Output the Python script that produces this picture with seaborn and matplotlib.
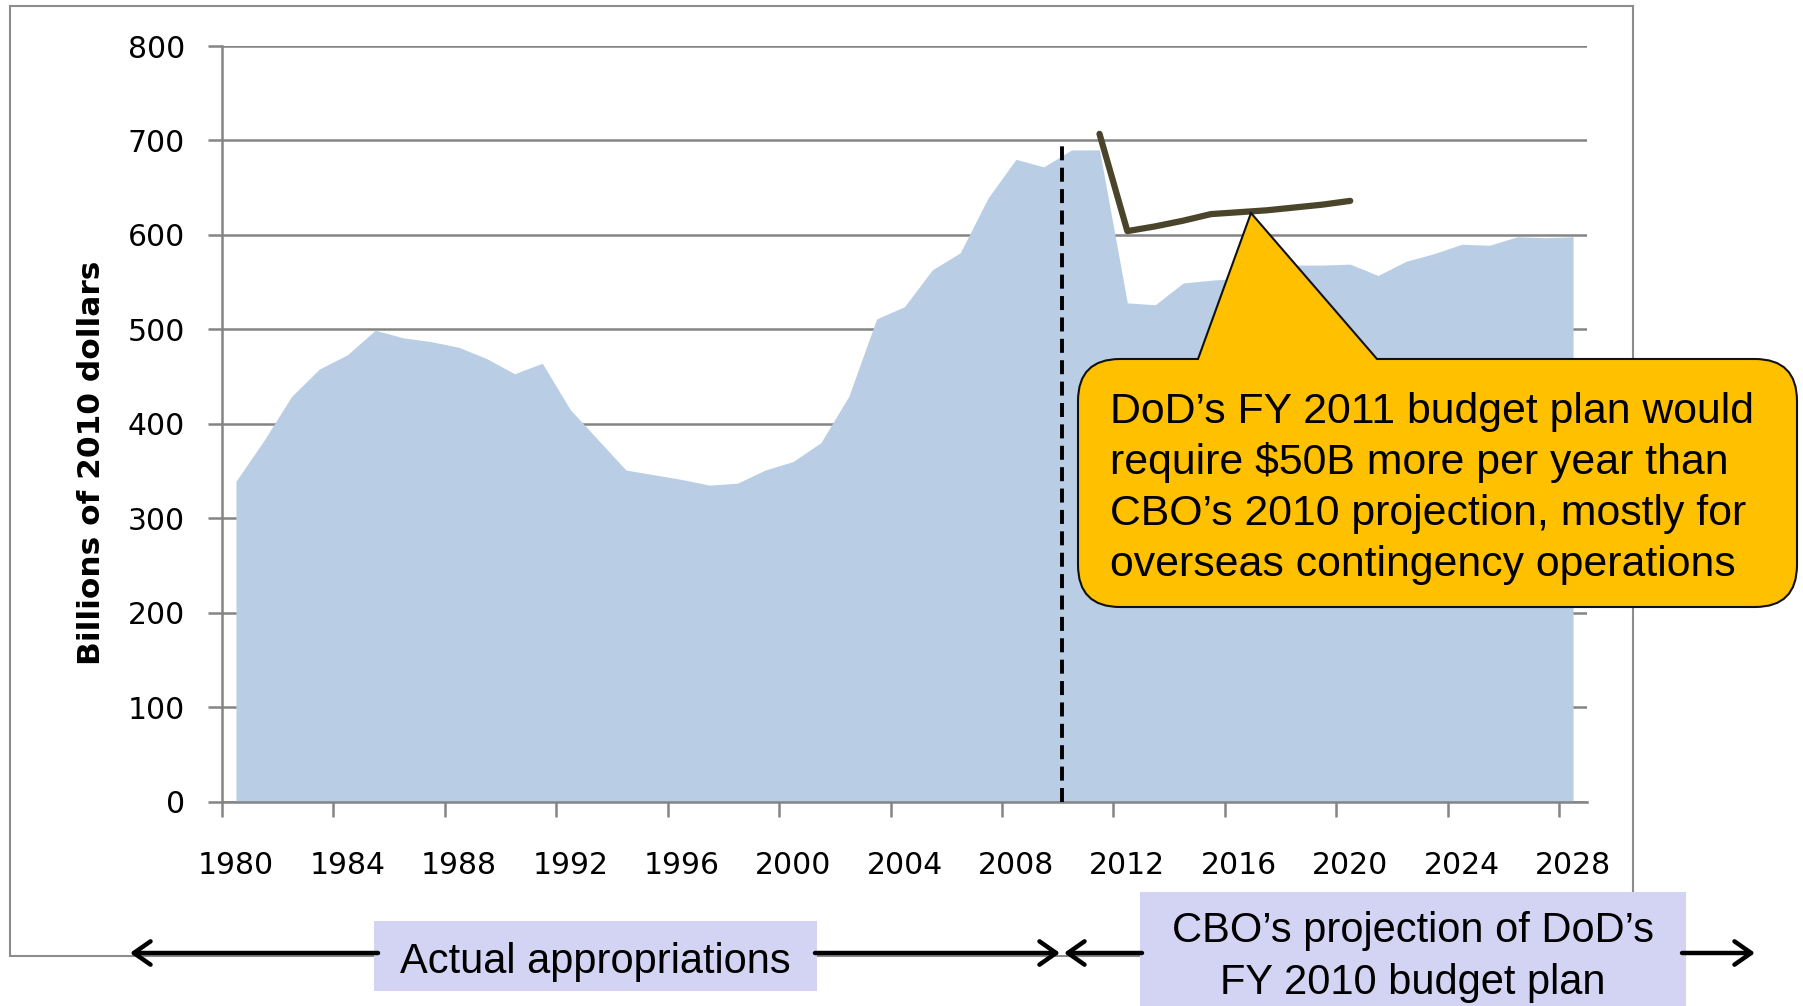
import pandas as pd
import seaborn as sns
import matplotlib.pyplot as plt
from matplotlib import font_manager
from matplotlib.patches import Rectangle, PathPatch
from matplotlib.path import Path

# DoD budget, billions of 2010 dollars (actual through 2009, CBO projection after)
years = list(range(1980, 2029))
budget = [339, 382, 429, 458, 473, 499, 491, 487, 481, 469,
          453, 464, 415, 383, 351, 346, 341, 335, 337, 351,
          360, 380, 429, 511, 524, 563, 581, 639, 680, 672,
          690, 690, 528, 526, 549, 552, 554, 558, 568, 568,
          569, 557, 572, 580, 590, 589, 598, 597, 598]

# DoD's FY 2011 budget plan
plan_years = list(range(2011, 2021))
plan_values = [707, 604, 609, 615, 622, 624, 626, 629, 632, 636]

y_ticks = [0, 100, 200, 300, 400, 500, 600, 700, 800]
x_labels = list(range(1980, 2029, 4))

callout_lines = ["DoD\u2019s FY 2011 budget plan would",
                 "require $50B more per year than",
                 "CBO\u2019s 2010 projection, mostly for",
                 "overseas contingency operations"]
left_label = "Actual appropriations"
right_label = ["CBO\u2019s projection of DoD\u2019s", "FY 2010 budget plan"]

sns.set_style("white")
plt.rcParams["font.family"] = ["DejaVu Sans"]
plt.rcParams["text.color"] = "black"
plt.rcParams["axes.labelcolor"] = "black"
plt.rcParams["xtick.labelcolor"] = "black"
plt.rcParams["ytick.labelcolor"] = "black"

names = {f.name for f in font_manager.fontManager.ttflist}
if "Liberation Sans Narrow" in names:
    ylab_font, ylab_size = "Liberation Sans Narrow", 31.5
else:
    ylab_font, ylab_size = "DejaVu Sans", 22.5

W, H = 1803, 1006
fig = plt.figure(figsize=(W / 100, H / 100), dpi=100)
ax = fig.add_axes([222 / W, 1 - 801.5 / H, 1365 / W, 755.5 / H])

grey = "#848484"
ax.fill_between(years, 0, budget, color="#B9CDE5", linewidth=0, zorder=2)
plan = pd.DataFrame({"Year": plan_years, "Budget": plan_values})
sns.lineplot(data=plan, x="Year", y="Budget", color="#4A452A", linewidth=4.5,
             ax=ax, zorder=4)
ax.vlines(2009.65, 0, 695, colors="black", linestyles=(0, (3.6, 1.9)),
          linewidth=2.8, zorder=5)

ax.set_xlim(1979.5, 2028.5)
ax.set_ylim(0, 800)
ax.set_axisbelow(True)
ax.set_yticks(y_ticks)
ax.yaxis.grid(True, color=grey, linewidth=1.8)
ax.xaxis.grid(False)
for side in ["top", "right"]:
    ax.spines[side].set_visible(False)
for side in ["left", "bottom"]:
    ax.spines[side].set_color(grey)
    ax.spines[side].set_linewidth(1.8)

ax.set_xticks([y - 0.5 for y in x_labels[:-1]] + [2027.5])
ax.set_xticklabels([])
ax.set_xticks(x_labels, minor=True)
ax.set_xticklabels([str(y) for y in x_labels], minor=True)
ax.tick_params(axis="x", which="major", direction="out", length=11, width=1.8,
               color=grey, bottom=True)
ax.tick_params(axis="x", which="minor", length=0, pad=36, labelsize=21.5)
ax.tick_params(axis="y", direction="out", length=10, width=1.8, color=grey,
               left=True, pad=16.5, labelsize=21.5)
ax.set_xlabel("")
ax.set_ylabel("Billions of 2010 dollars", fontsize=ylab_size,
              fontweight="bold", family=[ylab_font, "DejaVu Sans"])
ax.yaxis.set_label_coords((106 - 222) / 1365, (801.5 - 463) / 755.5)

# overlay in pixel space for the slide decorations
ov = fig.add_axes([0, 0, 1, 1], zorder=10)
ov.set_xlim(0, W)
ov.set_ylim(H, 0)
ov.axis("off")
ov.patch.set_alpha(0)

ov.add_patch(Rectangle((10, 6), 1623, 950, fill=False, edgecolor="#8C8C8C",
                       linewidth=1.5))

L, R, T, B, r = 1078, 1797, 359, 607, 42
verts = [(L + r, T), (1198, T), (1251, 213), (1377, T), (R - r, T),
         (R, T), (R, T + r), (R, B - r), (R, B), (R - r, B), (L + r, B),
         (L, B), (L, B - r), (L, T + r), (L, T), (L + r, T)]
codes = [Path.MOVETO, Path.LINETO, Path.LINETO, Path.LINETO, Path.LINETO,
         Path.CURVE3, Path.CURVE3, Path.LINETO, Path.CURVE3, Path.CURVE3,
         Path.LINETO, Path.CURVE3, Path.CURVE3, Path.LINETO, Path.CURVE3,
         Path.CURVE3]
ov.add_patch(PathPatch(Path(verts, codes), facecolor="#FFC000",
                       edgecolor="#111111", linewidth=1.5))
for i, line in enumerate(callout_lines):
    ov.text(1110, 423 + 51 * i, line, fontsize=30.8, family="Liberation Sans",
            color="black", ha="left", va="baseline")

ov.add_patch(Rectangle((374, 921), 443, 70, facecolor="#D3D3F3", linewidth=0))
ov.text(595.5, 973, left_label, fontsize=30, family="Liberation Sans",
        color="black", ha="center", va="baseline")
ov.add_patch(Rectangle((1140, 892), 546, 120, facecolor="#D3D3F3", linewidth=0))
for i, line in enumerate(right_label):
    ov.text(1413, 942 + 52 * i, line, fontsize=30, family="Liberation Sans",
            color="black", ha="center", va="baseline")

arrow = dict(arrowstyle="->,head_length=0.5,head_width=0.35", lw=3.2,
             color="black", shrinkA=0, shrinkB=0, mutation_scale=24)
for head, tail in [((130, 953), (378, 953)), ((1060, 953), (815, 953)),
                   ((1064, 953), (1142, 953)), ((1755, 953), (1682, 953))]:
    ov.annotate("", xy=head, xytext=tail, arrowprops=arrow)

fig.savefig("out.png", dpi=100)
